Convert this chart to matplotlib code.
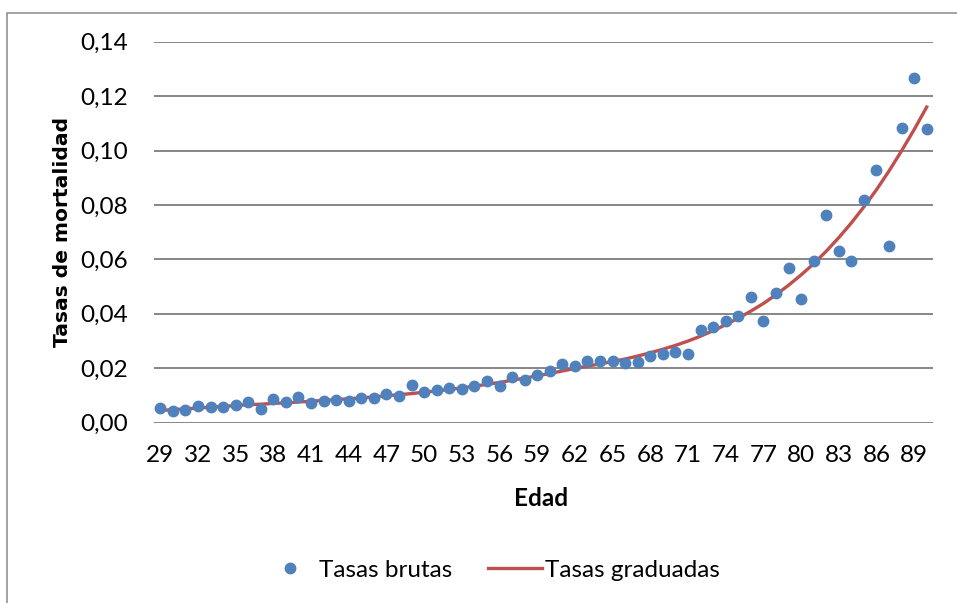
import matplotlib
matplotlib.use("Agg")
import matplotlib.pyplot as plt
from matplotlib.patches import Rectangle
from matplotlib.ticker import FixedLocator, FuncFormatter

ages = list(range(29, 91))
tasas_brutas = [
    0.0055, 0.0044, 0.0048, 0.0062, 0.0059, 0.0058, 0.0066, 0.0077, 0.0051, 0.0088,
    0.0077, 0.0095, 0.0073, 0.0081, 0.0084, 0.0081, 0.0092, 0.0092, 0.0106, 0.0099,
    0.0139, 0.0114, 0.0121, 0.0128, 0.0125, 0.0136, 0.0154, 0.0136, 0.0168, 0.0158,
    0.0176, 0.0190, 0.0216, 0.0209, 0.0227, 0.0227, 0.0227, 0.0220, 0.0223, 0.0245,
    0.0253, 0.0260, 0.0253, 0.0340, 0.0352, 0.0374, 0.0392, 0.0462, 0.0374, 0.0476,
    0.0568, 0.0454, 0.0593, 0.0762, 0.0630, 0.0593, 0.0820, 0.0927, 0.0648, 0.1084,
    0.1267, 0.1081,
]
tasas_graduadas = [
    0.0045, 0.0048, 0.0051, 0.0054, 0.0057, 0.0060, 0.0063, 0.0066, 0.0068, 0.0071,
    0.0073, 0.0076, 0.0079, 0.0082, 0.0085, 0.0088, 0.0091, 0.0095, 0.0099, 0.0103,
    0.0107, 0.0112, 0.0117, 0.0122, 0.0128, 0.0134, 0.0141, 0.0148, 0.0156, 0.0164,
    0.0172, 0.0181, 0.0190, 0.0199, 0.0208, 0.0216, 0.0225, 0.0234, 0.0245, 0.0257,
    0.0270, 0.0284, 0.0300, 0.0318, 0.0338, 0.0360, 0.0384, 0.0410, 0.0438, 0.0470,
    0.0505, 0.0543, 0.0584, 0.0630, 0.0680, 0.0734, 0.0793, 0.0856, 0.0925, 0.0999,
    0.1077, 0.1160,
]
y_ticks = [0.00, 0.02, 0.04, 0.06, 0.08, 0.10, 0.12, 0.14]
x_ticks = list(range(29, 91, 3))

W, H = 957, 603
fig = plt.figure(figsize=(W / 100, H / 100), dpi=100)
fig.patch.set_facecolor("white")

# chart area border
fig.patches.append(Rectangle((7.5 / W, -0.1), 1.2, 1 - 12.5 / H + 0.1,
                             transform=fig.transFigure, fill=False,
                             edgecolor="#898989", linewidth=1.1))

ax = fig.add_axes([154 / W, 1 - 422.7 / H, (933 - 154) / W, (422.7 - 41.7) / H])
ax.set_xlim(28.5, 90.5)
ax.set_ylim(0, 0.14)
for s in ax.spines.values():
    s.set_visible(False)
ax.yaxis.set_major_locator(FixedLocator(y_ticks))
ax.xaxis.set_major_locator(FixedLocator(x_ticks))
ax.yaxis.set_major_formatter(FuncFormatter(lambda v, p: f"{v:.2f}".replace(".", ",")))
ax.grid(axis="y", color="#868686", linewidth=1.4)
ax.set_axisbelow(True)
ax.tick_params(axis="both", length=0, labelsize=17.5)
ax.tick_params(axis="y", pad=19)
ax.tick_params(axis="x", pad=16)
for lab in ax.get_xticklabels() + ax.get_yticklabels():
    lab.set_fontfamily("Lato")

ax.plot(ages, tasas_graduadas, color="#C0504D", linewidth=2.4, label="Tasas graduadas", zorder=2)
ax.plot(ages, tasas_brutas, linestyle="none", marker="o", markersize=7.5,
        color="#4F81BD", label="Tasas brutas", zorder=3, clip_on=False)

fig.text(541 / W, 1 - 498 / H, "Edad", ha="center", va="center",
         fontsize=17.5, fontweight="bold", fontfamily="Lato")
fig.text(62 / W, 1 - 232 / H, "Tasas de mortalidad", ha="center", va="center",
         rotation=90, fontsize=14.6, fontweight="bold", fontfamily="DejaVu Sans")

h, l = ax.get_legend_handles_labels()
leg = fig.legend([h[1], h[0]], [l[1], l[0]], loc="center",
                 bbox_to_anchor=(491 / W, 1 - 570 / H), ncol=2, frameon=False,
                 prop={"family": "Lato", "size": 17.5}, handlelength=2.25,
                 handletextpad=0.1, columnspacing=1.45)

fig.savefig("out.png", dpi=100)
